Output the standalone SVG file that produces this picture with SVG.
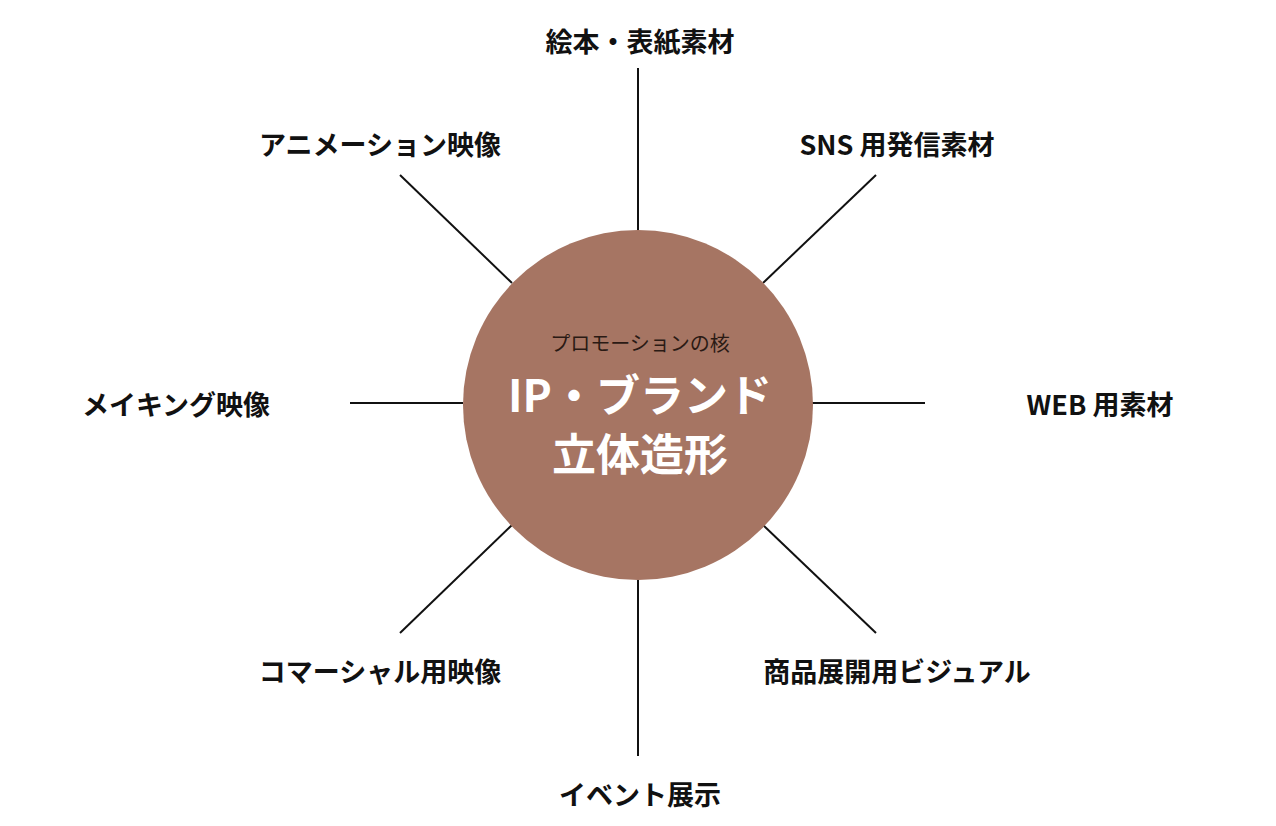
<svg xmlns="http://www.w3.org/2000/svg" width="1276" height="826" viewBox="0 0 1276 826">
<style>
.l{font-family:"Noto Sans CJK JP","Noto Sans",sans-serif;font-size:27px;font-weight:600;fill:#111;text-anchor:middle;dominant-baseline:central}
.c{stroke:#111;stroke-width:2}
</style>
<rect width="1276" height="826" fill="#fff"/>
<g id="connectors" class="c">
<line x1="638" y1="68" x2="638" y2="231"/>
<line x1="638" y1="580" x2="638" y2="756"/>
<line x1="350" y1="403" x2="463" y2="403"/>
<line x1="812" y1="403" x2="925" y2="403"/>
<line x1="400" y1="175" x2="512" y2="283"/>
<line x1="876" y1="175" x2="763" y2="283"/>
<line x1="400" y1="633" x2="512" y2="525"/>
<line x1="876" y1="633" x2="763" y2="525"/>
</g>
<g id="center">
<circle cx="638" cy="405" r="175" fill="#A67563"/>
<text x="640" y="342" style="font-family:'Noto Sans CJK JP',sans-serif;font-size:20px;fill:#2a1a14;text-anchor:middle;dominant-baseline:central">プロモーションの核</text>
<text x="640" y="393" style="font-family:'Noto Sans CJK JP',sans-serif;font-size:44px;font-weight:700;fill:#fff;text-anchor:middle;dominant-baseline:central">IP・ブランド</text>
<text x="640" y="452" style="font-family:'Noto Sans CJK JP',sans-serif;font-size:44px;font-weight:700;fill:#fff;text-anchor:middle;dominant-baseline:central">立体造形</text>
</g>
<g id="n1"><text class="l" x="640" y="40">絵本・表紙素材</text></g>
<g id="n2"><text class="l" x="380" y="143">アニメーション映像</text></g>
<g id="n3"><text class="l" x="897" y="143">SNS 用発信素材</text></g>
<g id="n4"><text class="l" x="176" y="403">メイキング映像</text></g>
<g id="n5"><text class="l" x="1100" y="403">WEB 用素材</text></g>
<g id="n6"><text class="l" x="380" y="670">コマーシャル用映像</text></g>
<g id="n7"><text class="l" x="897" y="670">商品展開用ビジュアル</text></g>
<g id="n8"><text class="l" x="640" y="793">イベント展示</text></g>
</svg>
